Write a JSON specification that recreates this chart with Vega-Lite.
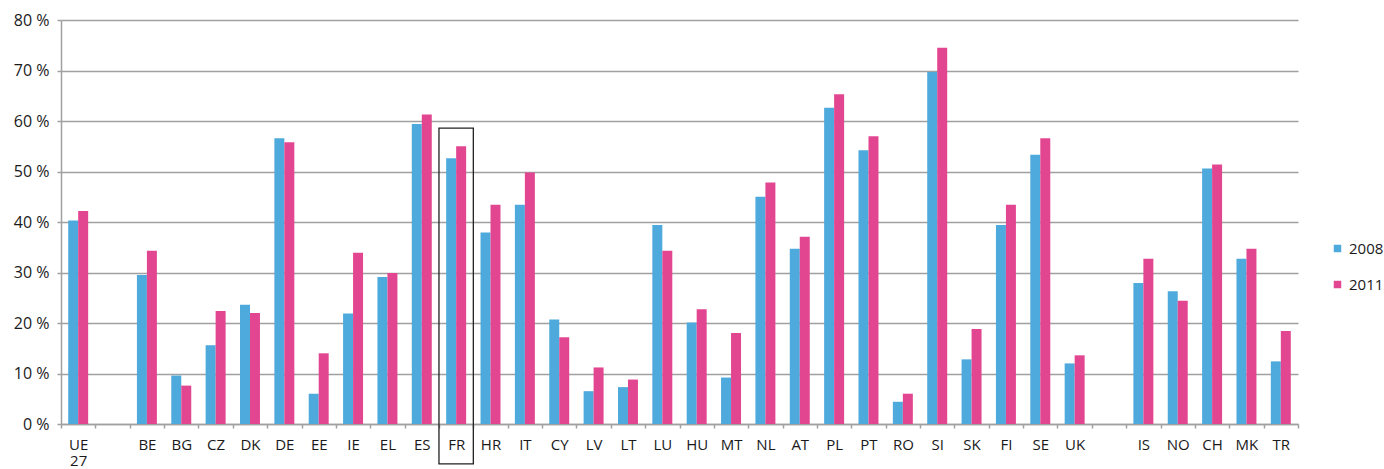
{
  "$schema": "https://vega.github.io/schema/vega-lite/v6.json",
  "autosize": {"type": "none"},
  "padding": {"left": 61, "top": 20, "right": 86, "bottom": 45},
  "width": 1237,
  "height": 404,
  "config": {
    "view": {"stroke": null},
    "font": "Open Sans",
    "axis": {"labelFont": "Open Sans", "labelColor": "#1a1a1a", "domainColor": "#a0a0a0", "domainWidth": 1.5, "tickColor": "#a0a0a0", "tickWidth": 1.5, "gridColor": "#a0a0a0", "gridWidth": 1.5},
    "legend": {"labelFont": "Open Sans", "labelColor": "#1a1a1a"}
  },
  "layer": [
    {
      "data": {"values": [
        {"c": "UE|27", "y": "2008", "v": 40.3}, {"c": "UE|27", "y": "2011", "v": 42.2},
        {"c": "BE", "y": "2008", "v": 29.5}, {"c": "BE", "y": "2011", "v": 34.3},
        {"c": "BG", "y": "2008", "v": 9.6}, {"c": "BG", "y": "2011", "v": 7.6},
        {"c": "CZ", "y": "2008", "v": 15.6}, {"c": "CZ", "y": "2011", "v": 22.4},
        {"c": "DK", "y": "2008", "v": 23.6}, {"c": "DK", "y": "2011", "v": 22.0},
        {"c": "DE", "y": "2008", "v": 56.6}, {"c": "DE", "y": "2011", "v": 55.8},
        {"c": "EE", "y": "2008", "v": 6.0}, {"c": "EE", "y": "2011", "v": 14.0},
        {"c": "IE", "y": "2008", "v": 21.9}, {"c": "IE", "y": "2011", "v": 33.9},
        {"c": "EL", "y": "2008", "v": 29.1}, {"c": "EL", "y": "2011", "v": 29.9},
        {"c": "ES", "y": "2008", "v": 59.4}, {"c": "ES", "y": "2011", "v": 61.3},
        {"c": "FR", "y": "2008", "v": 52.6}, {"c": "FR", "y": "2011", "v": 55.0},
        {"c": "HR", "y": "2008", "v": 37.9}, {"c": "HR", "y": "2011", "v": 43.4},
        {"c": "IT", "y": "2008", "v": 43.4}, {"c": "IT", "y": "2011", "v": 49.8},
        {"c": "CY", "y": "2008", "v": 20.7}, {"c": "CY", "y": "2011", "v": 17.2},
        {"c": "LV", "y": "2008", "v": 6.5}, {"c": "LV", "y": "2011", "v": 11.2},
        {"c": "LT", "y": "2008", "v": 7.3}, {"c": "LT", "y": "2011", "v": 8.8},
        {"c": "LU", "y": "2008", "v": 39.4}, {"c": "LU", "y": "2011", "v": 34.3},
        {"c": "HU", "y": "2008", "v": 20.1}, {"c": "HU", "y": "2011", "v": 22.7},
        {"c": "MT", "y": "2008", "v": 9.2}, {"c": "MT", "y": "2011", "v": 18.0},
        {"c": "NL", "y": "2008", "v": 45.0}, {"c": "NL", "y": "2011", "v": 47.8},
        {"c": "AT", "y": "2008", "v": 34.7}, {"c": "AT", "y": "2011", "v": 37.1},
        {"c": "PL", "y": "2008", "v": 62.6}, {"c": "PL", "y": "2011", "v": 65.3},
        {"c": "PT", "y": "2008", "v": 54.2}, {"c": "PT", "y": "2011", "v": 57.0},
        {"c": "RO", "y": "2008", "v": 4.4}, {"c": "RO", "y": "2011", "v": 6.0},
        {"c": "SI", "y": "2008", "v": 69.7}, {"c": "SI", "y": "2011", "v": 74.5},
        {"c": "SK", "y": "2008", "v": 12.8}, {"c": "SK", "y": "2011", "v": 18.8},
        {"c": "FI", "y": "2008", "v": 39.4}, {"c": "FI", "y": "2011", "v": 43.4},
        {"c": "SE", "y": "2008", "v": 53.3}, {"c": "SE", "y": "2011", "v": 56.6},
        {"c": "UK", "y": "2008", "v": 12.0}, {"c": "UK", "y": "2011", "v": 13.6},
        {"c": "IS", "y": "2008", "v": 27.9}, {"c": "IS", "y": "2011", "v": 32.7},
        {"c": "NO", "y": "2008", "v": 26.3}, {"c": "NO", "y": "2011", "v": 24.4},
        {"c": "CH", "y": "2008", "v": 50.6}, {"c": "CH", "y": "2011", "v": 51.4},
        {"c": "MK", "y": "2008", "v": 32.7}, {"c": "MK", "y": "2011", "v": 34.7},
        {"c": "TR", "y": "2008", "v": 12.4}, {"c": "TR", "y": "2011", "v": 18.4}
      ]},
      "mark": {"type": "bar"},
      "encoding": {
        "x": {
          "field": "c", "type": "nominal", "sort": null,
          "scale": {
            "domain": ["UE|27", " ", "BE", "BG", "CZ", "DK", "DE", "EE", "IE", "EL", "ES", "FR", "HR", "IT", "CY", "LV", "LT", "LU", "HU", "MT", "NL", "AT", "PL", "PT", "RO", "SI", "SK", "FI", "SE", "UK", "  ", "IS", "NO", "CH", "MK", "TR"],
            "paddingInner": 0, "paddingOuter": 0
          },
          "axis": {
            "title": null, "labelAngle": 0, "grid": false, "tickBand": "extent", "tickSize": 4,
            "labelPadding": 9, "labelFontSize": 15, "labelLineHeight": 16,
            "labelExpr": "split(datum.label, '|')"
          }
        },
        "xOffset": {"field": "y", "type": "nominal", "scale": {"paddingInner": 0, "paddingOuter": 0.72}},
        "y": {
          "field": "v", "type": "quantitative",
          "scale": {"domain": [0, 80], "nice": false},
          "axis": {"title": null, "values": [0, 10, 20, 30, 40, 50, 60, 70, 80], "labelExpr": "datum.value + ' %'", "tickSize": 4, "labelPadding": 8, "labelFontSize": 16, "grid": true}
        },
        "color": {
          "field": "y", "type": "nominal",
          "scale": {"domain": ["2008", "2011"], "range": ["#4eaadc", "#e34691"]},
          "legend": {"title": null, "orient": "none", "legendX": 1269, "legendY": 221, "symbolType": "square", "symbolSize": 56, "labelFontSize": 15, "labelOffset": 4, "rowPadding": 20, "padding": 0, "symbolStrokeWidth": 0}
        }
      }
    },
    {
      "data": {"values": [{"c": "FR", "top": 58.6, "bot": -7.9}]},
      "mark": {"type": "rect", "fill": null, "stroke": "#222222", "strokeWidth": 1.3},
      "encoding": {
        "x": {"field": "c", "type": "nominal"},
        "y": {"field": "top", "type": "quantitative"},
        "y2": {"field": "bot"}
      }
    }
  ]
}
